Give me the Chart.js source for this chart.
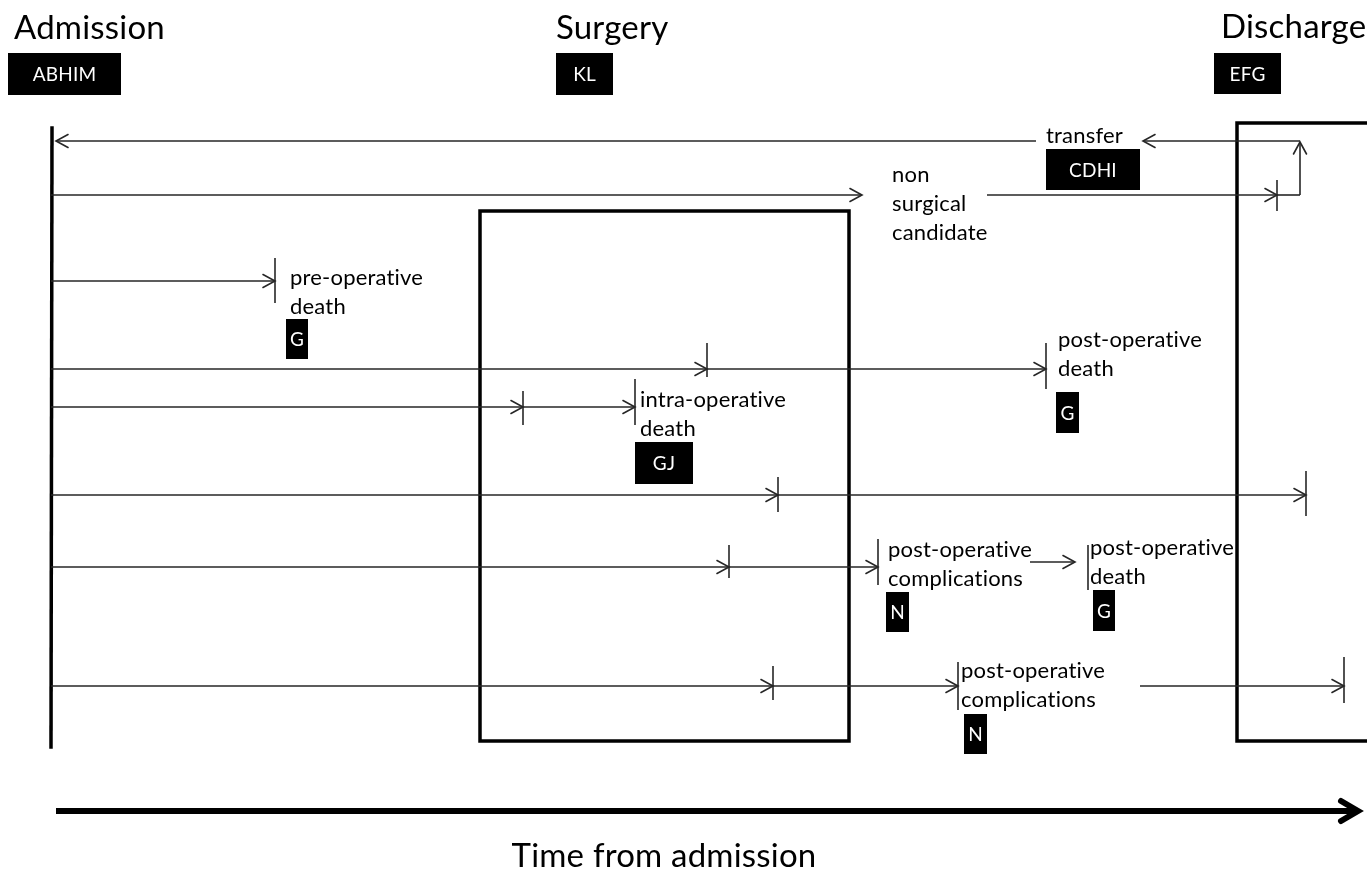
<!DOCTYPE html>
<html>
<head>
<meta charset="utf-8">
<title>Time from admission</title>
<script src="https://cdn.jsdelivr.net/npm/chart.js@4/dist/chart.umd.min.js"></script>
<style>
  html, body { margin: 0; padding: 0; background: #fff; }
  canvas { display: block; }
</style>
</head>
<body>
<canvas id="pathway" width="1367" height="871"></canvas>
<script>
// thin pathway lines: [x1, y1, x2, y2, arrow at end (1/0)]
const pathLines = [
  [1036, 141, 56, 141, 1],
  [1300, 141, 1143, 141, 1],
  [1300, 195, 1300, 142, 1],
  [51, 195, 862, 195, 1],
  [987, 195, 1277, 195, 1],
  [1277, 195, 1300, 195, 0],
  [51, 281, 275, 281, 1],
  [51, 369, 707, 369, 1],
  [707, 369, 1046, 369, 1],
  [51, 407, 523, 407, 1],
  [523, 407, 635, 407, 1],
  [51, 495, 778, 495, 1],
  [778, 495, 1306, 495, 1],
  [51, 567, 729, 567, 1],
  [729, 567, 878, 567, 1],
  [1030, 562, 1075, 562, 1],
  [51, 686, 773, 686, 1],
  [773, 686, 958, 686, 1],
  [1140, 686, 1344, 686, 1]
];

// event markers: [x, yTop, yBottom]
const eventBars = [
  [1277, 180, 211], [275, 258, 303], [707, 343, 377], [1046, 343, 389],
  [523, 391, 425], [635, 379, 425], [778, 477, 512], [1306, 471, 516],
  [729, 545, 578], [878, 539, 585], [1088, 545, 590], [773, 666, 700],
  [958, 662, 710], [1344, 657, 703]
];

// thick outlines
const admissionLine = [[52, 128], [51, 747]];
const surgeryBox = [[480, 211], [849, 211], [849, 741], [480, 741], [480, 211]];
const dischargeBox = [[1372, 123], [1237, 123], [1237, 741], [1372, 741]];
const timeAxis = [[56, 811], [1356, 811]];

// stage headings: [text, x, baseline]
const headings = [
  ['Admission', 14, 39],
  ['Surgery', 556, 39],
  ['Discharge', 1221, 38]
];
const axisTitle = ['Time from admission', 664, 867];

// outcome labels: [text, x, first baseline]
const outcomeLabels = [
  ['transfer', 1046, 143],
  ['non\nsurgical\ncandidate', 892, 182],
  ['pre-operative\ndeath', 290, 285],
  ['post-operative\ndeath', 1058, 347],
  ['intra-operative\ndeath', 640, 407],
  ['post-operative\ncomplications', 888, 557],
  ['post-operative\ndeath', 1090, 555],
  ['post-operative\ncomplications', 961, 678]
];

// code tags: [text, x1, y1, x2, y2]
const codeTags = [
  ['ABHIM', 8, 53, 121, 95],
  ['KL', 556, 53, 613, 95],
  ['EFG', 1214, 53, 1281, 94],
  ['CDHI', 1046, 149, 1140, 190],
  ['G', 286, 319, 308, 359],
  ['G', 1056, 392, 1079, 433],
  ['GJ', 635, 442, 693, 484],
  ['N', 886, 592, 909, 632],
  ['G', 1093, 590, 1115, 631],
  ['N', 964, 714, 987, 754]
];

const FONT = 'Lato, "Open Sans", sans-serif';
const INK = '#262626';

const toPts = arr => arr.map(p => ({ x: p[0], y: p[1] }));

const datasets = [];
pathLines.forEach(s => {
  datasets.push({
    data: [{ x: s[0], y: s[1] }, { x: s[2], y: s[3] }],
    showLine: true, borderColor: INK, borderWidth: 1.6, pointRadius: 0
  });
});
[admissionLine, surgeryBox, dischargeBox].forEach(path => {
  datasets.push({
    data: toPts(path), showLine: true, borderColor: '#000', borderWidth: 3.5,
    pointRadius: 0, borderJoinStyle: 'miter', borderCapStyle: 'square'
  });
});
datasets.push({
  data: toPts(timeAxis), showLine: true, borderColor: '#000', borderWidth: 6, pointRadius: 0
});

// arrowheads, marker bars, tags and texts, placed through the scales
const annotate = {
  id: 'annotate',
  afterDatasetsDraw(chart) {
    const { ctx } = chart;
    const sx = chart.scales.x, sy = chart.scales.y;
    const X = v => sx.getPixelForValue(v);
    const Y = v => sy.getPixelForValue(v);

    function head(x1, y1, x2, y2, len, half, width) {
      const a = Math.atan2(y2 - y1, x2 - x1);
      ctx.save();
      ctx.translate(x2, y2);
      ctx.rotate(a);
      ctx.beginPath();
      ctx.moveTo(-len, -half);
      ctx.lineTo(0, 0);
      ctx.lineTo(-len, half);
      ctx.lineWidth = width;
      ctx.lineCap = 'round';
      ctx.lineJoin = 'miter';
      ctx.stroke();
      ctx.restore();
    }

    ctx.save();
    ctx.strokeStyle = INK;
    pathLines.forEach(s => {
      if (s[4]) head(X(s[0]), Y(s[1]), X(s[2]), Y(s[3]), 12, 6.5, 1.6);
    });
    ctx.lineWidth = 1.6;
    eventBars.forEach(b => {
      ctx.beginPath();
      ctx.moveTo(X(b[0]), Y(b[1]));
      ctx.lineTo(X(b[0]), Y(b[2]));
      ctx.stroke();
    });
    ctx.strokeStyle = '#000';
    head(X(timeAxis[0][0]), Y(timeAxis[0][1]), X(timeAxis[1][0]) + 2, Y(timeAxis[1][1]), 17, 10, 6);

    // a little letter spacing keeps Lato from joining "ti"
    if ('letterSpacing' in ctx) ctx.letterSpacing = '0.2px';

    ctx.fillStyle = '#000';
    ctx.textAlign = 'left';
    ctx.textBaseline = 'alphabetic';
    ctx.font = '33px ' + FONT;
    headings.forEach(h => ctx.fillText(h[0], X(h[1]), Y(h[2])));
    ctx.textAlign = 'center';
    ctx.fillText(axisTitle[0], X(axisTitle[1]), Y(axisTitle[2]));

    ctx.textAlign = 'left';
    ctx.font = '22px ' + FONT;
    outcomeLabels.forEach(l => {
      l[0].split('\n').forEach((line, i) => {
        ctx.fillText(line, X(l[1]), Y(l[2]) + i * 29);
      });
    });

    ctx.font = '19px ' + FONT;
    ctx.textAlign = 'center';
    ctx.textBaseline = 'middle';
    codeTags.forEach(t => {
      const x1 = X(t[1]), y1 = Y(t[2]), x2 = X(t[3]), y2 = Y(t[4]);
      ctx.fillStyle = '#000';
      ctx.fillRect(x1, y1, x2 - x1, y2 - y1);
      ctx.fillStyle = '#fff';
      ctx.fillText(t[0], (x1 + x2) / 2, (y1 + y2) / 2 + 1);
    });
    ctx.restore();
  }
};

new Chart(document.getElementById('pathway'), {
  type: 'scatter',
  data: { datasets },
  options: {
    responsive: false,
    animation: false,
    events: [],
    layout: { padding: 0 },
    plugins: { legend: { display: false }, tooltip: { enabled: false } },
    scales: {
      x: { type: 'linear', min: 0, max: 1367, display: false },
      y: { type: 'linear', min: 0, max: 871, reverse: true, display: false }
    }
  },
  plugins: [annotate]
});
</script>
</body>
</html>
